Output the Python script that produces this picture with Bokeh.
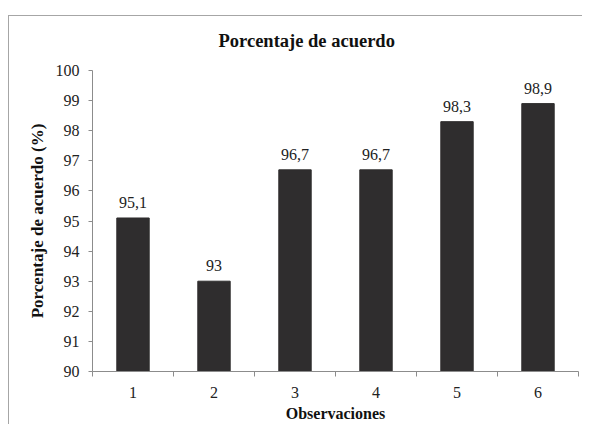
from bokeh.plotting import figure
from bokeh.models import FixedTicker, Range1d, ColumnDataSource, Title
from bokeh.embed import file_html
from bokeh.resources import INLINE
from bokeh.core.properties import value

categories = ["1", "2", "3", "4", "5", "6"]
positions = [1, 2, 3, 4, 5, 6]
values = [95.1, 93.0, 96.7, 96.7, 98.3, 98.9]
value_labels = ["95,1", "93", "96,7", "96,7", "98,3", "98,9"]
y_ticks = [90, 91, 92, 93, 94, 95, 96, 97, 98, 99, 100]

FONT = "Liberation Serif"

src = ColumnDataSource(dict(x=positions, top=values, lab=value_labels))

p = figure(width=582, height=424, output_backend="svg", toolbar_location=None,
           x_range=Range1d(0.5, 6.5), y_range=Range1d(90, 100),
           min_border_left=92, min_border_right=4, min_border_top=70, min_border_bottom=51)
p.border_fill_alpha = 0
p.background_fill_color = "white"
p.styles = {
    "background": ("linear-gradient(#a6a6a6, #a6a6a6) 8px 15px / 100% 1px no-repeat, "
                   "linear-gradient(#a6a6a6, #a6a6a6) 8px 15px / 1px 100% no-repeat, white"),
}

t = Title(text="Porcentaje de acuerdo", align="left", offset=126,
          text_font=FONT, text_font_size="18.5px", text_font_style="bold",
          text_color="#111111", standoff=39)
p.add_layout(t, "above")

p.vbar(x="x", top="top", bottom=90, width=0.4, source=src,
       fill_color="#2f2d2e", line_color="#2f2d2e")
p.text(x="x", y="top", text="lab", source=src, y_offset=-10,
       text_align="center", text_baseline="bottom",
       text_font=value(FONT), text_font_size="16px", text_color="#222222")

p.xgrid.visible = False
p.ygrid.visible = False
p.outline_line_color = None

xa = p.xaxis[0]
xa.ticker = FixedTicker(ticks=positions, minor_ticks=[0.5, 1.5, 2.5, 3.5, 4.5, 5.5, 6.5])
xa.major_label_overrides = {pos: c for pos, c in zip(positions, categories)}
xa.major_tick_out = 0
xa.major_tick_in = 0
xa.minor_tick_out = 5
xa.minor_tick_in = 0
xa.axis_label = "Observaciones"
xa.major_label_standoff = 10

ya = p.yaxis[0]
ya.ticker = FixedTicker(ticks=y_ticks)
ya.major_tick_out = 4
ya.major_tick_in = 0
ya.minor_tick_out = 0
ya.minor_tick_in = 0
ya.axis_label = "Porcentaje de acuerdo (%)"
ya.major_label_standoff = 9
ya.axis_label_standoff = 6

for ax in (xa, ya):
    ax.axis_line_color = "#8c8c8c"
    ax.major_tick_line_color = "#8c8c8c"
    ax.minor_tick_line_color = "#8c8c8c"
    ax.major_label_text_font = FONT
    ax.major_label_text_font_size = "16px"
    ax.major_label_text_color = "#222222"
    ax.axis_label_text_font = FONT
    ax.axis_label_text_font_style = "bold"
    ax.axis_label_text_color = "#111111"

xa.axis_label_text_font_size = "16px"
ya.axis_label_text_font_size = "17px"
xa.axis_label_standoff = 4

open("out.html", "w").write(file_html(p, INLINE))
